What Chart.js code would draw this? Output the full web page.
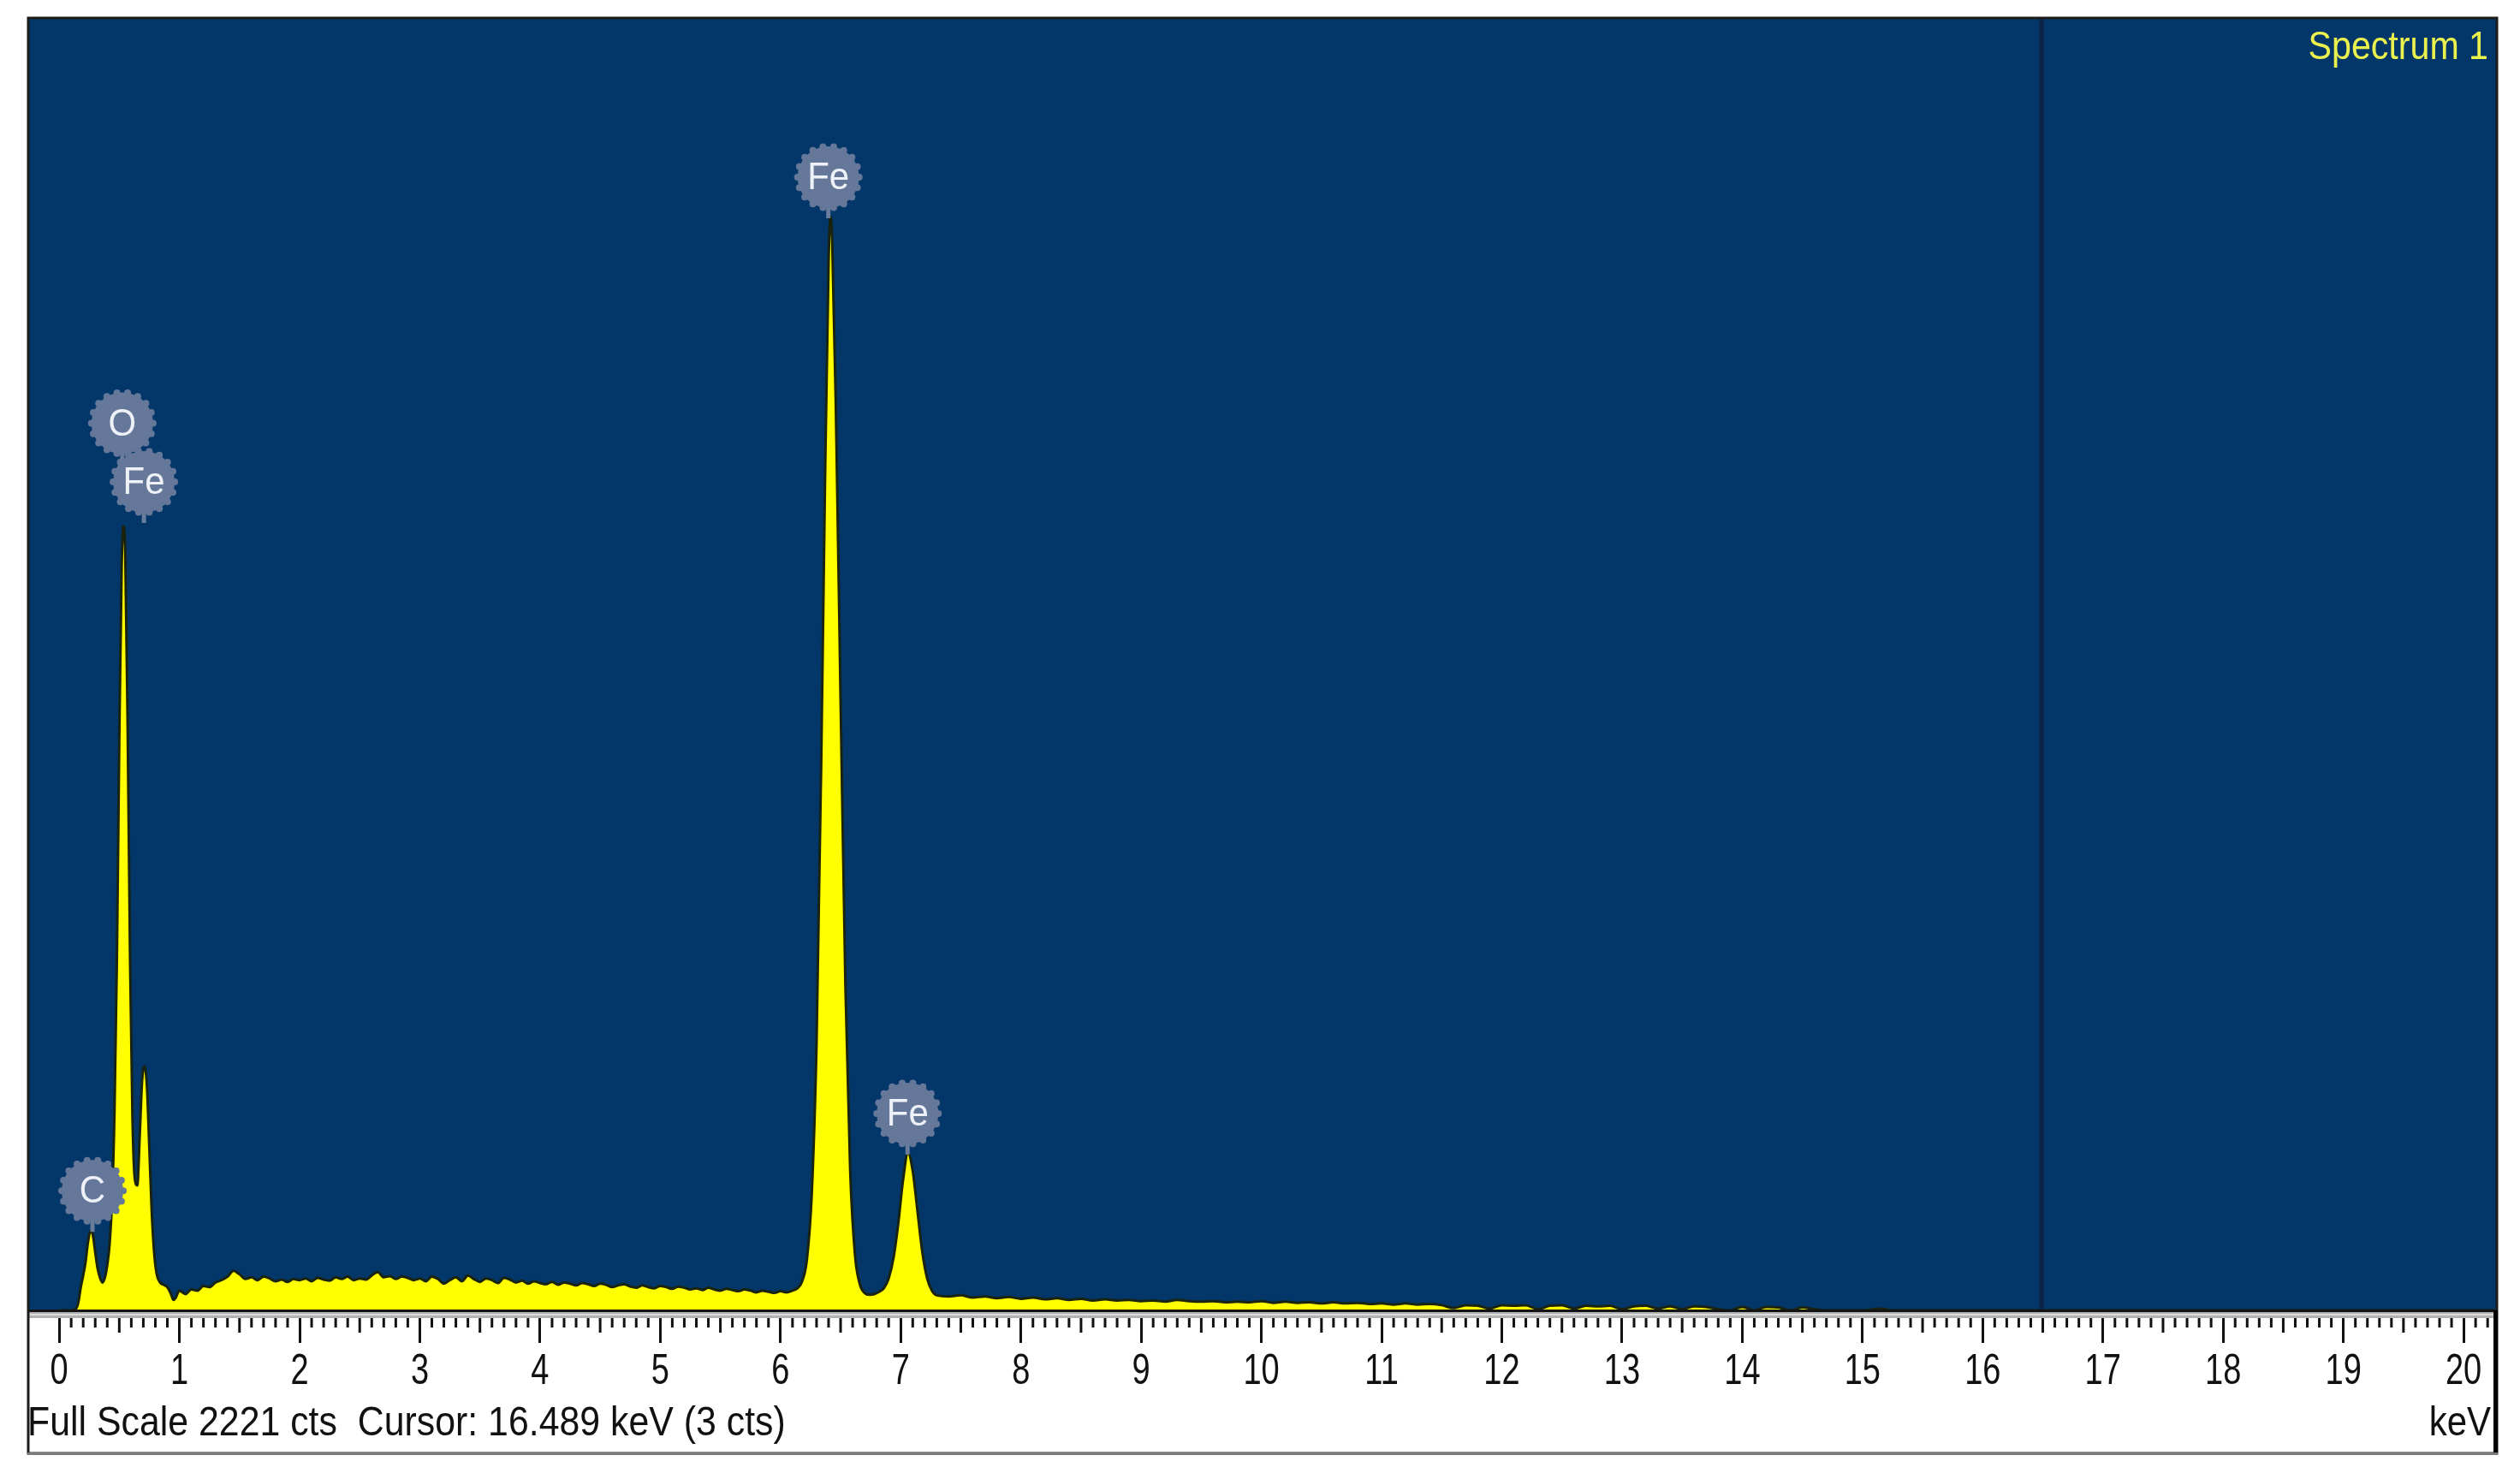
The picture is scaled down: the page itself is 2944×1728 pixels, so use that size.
<!DOCTYPE html>
<html>
<head>
<meta charset="utf-8">
<script src="https://cdn.jsdelivr.net/npm/chart.js@4.4.1/dist/chart.umd.min.js"></script>
<style>
  html, body { margin: 0; padding: 0; background: #ffffff; }
  canvas { display: block; }
</style>
</head>
<body>
<canvas id="spectrum" width="2944" height="1728"></canvas>
<script>
// EDS spectrum, counts per channel
const lowKeV = [
  0.00, 0.10, 0.14, 0.16, 0.18, 0.20, 0.22, 0.24, 0.26, 0.28,
  0.30, 0.32, 0.34, 0.36, 0.38, 0.40, 0.42, 0.44, 0.46, 0.48,
  0.50, 0.52, 0.535, 0.55, 0.57, 0.59, 0.61, 0.63, 0.65, 0.67,
  0.69, 0.71, 0.73, 0.75, 0.77, 0.79, 0.81, 0.84, 0.87, 0.90,
  0.93, 0.95, 0.97, 1.00
];
const lowCts = [
  0, 0, 3, 14, 40, 60, 84, 118, 136, 130,
  100, 72, 56, 48, 56, 78, 115, 190, 340, 600,
  980, 1280, 1349, 1300, 1000, 600, 330, 225, 215, 300,
  395, 420, 385, 280, 170, 100, 64, 48, 44, 40,
  28, 18, 22, 34
];
const bremsKeV = [
  1.05, 1.10, 1.15, 1.20, 1.25, 1.30, 1.35, 1.40, 1.45, 1.50,
  1.55, 1.60, 1.65, 1.70, 1.75, 1.80, 1.85, 1.90, 1.95, 2.00,
  2.05, 2.10, 2.15, 2.20, 2.25, 2.30, 2.35, 2.40, 2.45, 2.50,
  2.55, 2.60, 2.65, 2.70, 2.75, 2.80, 2.85, 2.90, 2.95, 3.00,
  3.05, 3.10, 3.15, 3.20, 3.25, 3.30, 3.35, 3.40, 3.45, 3.50,
  3.55, 3.60, 3.65, 3.70, 3.75, 3.80, 3.85, 3.90, 3.95, 4.00,
  4.05, 4.10, 4.15, 4.20, 4.25, 4.30, 4.35, 4.40, 4.45, 4.50,
  4.55, 4.60, 4.65, 4.70, 4.75, 4.80, 4.85, 4.90, 4.95, 5.00,
  5.05, 5.10, 5.15, 5.20, 5.25, 5.30, 5.35, 5.40, 5.45, 5.50,
  5.55, 5.60, 5.65, 5.70, 5.75, 5.80, 5.85, 5.90, 5.95, 6.00,
  6.05, 6.10
];
const bremsCts = [
  28, 36, 34, 42, 40, 48, 52, 58, 68, 62,
  54, 57, 52, 58, 55, 50, 53, 49, 54, 52,
  55, 50, 56, 53, 51, 57, 54, 58, 52, 55,
  53, 60, 66, 57, 59, 54, 58, 56, 52, 55,
  50, 58, 54, 46, 52, 57, 50, 60, 54, 49,
  55, 52, 47, 56, 53, 48, 51, 46, 50, 47,
  45, 49, 44, 48, 46, 43, 47, 45, 42, 46,
  44, 40, 43, 45, 41, 39, 43, 40, 38, 42,
  40, 37, 41, 39, 36, 38, 35, 39, 36, 34,
  37, 35, 33, 36, 34, 31, 34, 32, 30, 33,
  31, 34
];
const feKKeV = [
  6.14, 6.18, 6.22, 6.26, 6.30, 6.34, 6.37, 6.40, 6.415, 6.43,
  6.46, 6.50, 6.54, 6.58, 6.62, 6.66, 6.70, 6.74, 6.78, 6.82,
  6.86, 6.90, 6.94, 6.98, 7.02, 7.06, 7.10, 7.14, 7.18, 7.22,
  7.26, 7.30
];
const feKCts = [
  38, 50, 88, 200, 460, 960, 1420, 1800, 1881, 1840,
  1560, 1050, 560, 240, 95, 45, 30, 27, 28, 32,
  38, 55, 90, 150, 225, 271, 240, 170, 100, 55,
  34, 26
];
const tailKeV = [
  7.40, 7.50, 7.60, 7.70, 7.80, 7.90, 8.00, 8.10, 8.20, 8.30,
  8.40, 8.50, 8.60, 8.70, 8.80, 8.90, 9.00, 9.10, 9.20, 9.30,
  9.40, 9.50, 9.60, 9.70, 9.80, 9.90, 10.00, 10.10, 10.20, 10.30,
  10.40, 10.50, 10.60, 10.70, 10.80, 10.90, 11.00, 11.10, 11.20, 11.30,
  11.40, 11.50, 11.60, 11.70, 11.80, 11.90, 12.00, 12.10, 12.20, 12.30,
  12.40, 12.50, 12.60, 12.70, 12.80, 12.90, 13.00, 13.10, 13.20, 13.30,
  13.40, 13.50, 13.60, 13.70, 13.80, 13.90, 14.00, 14.10, 14.20, 14.30,
  14.40, 14.50, 14.60, 14.70, 14.80, 14.90, 15.00, 15.15, 15.25, 20.27
];
const tailCts = [
  24, 26, 22, 24, 21, 23, 20, 22, 19, 21,
  18, 20, 17, 19, 17, 18, 16, 17, 15, 18,
  16, 15, 16, 14, 15, 14, 16, 13, 15, 13,
  14, 12, 14, 12, 13, 11, 12, 10, 12, 10,
  11, 9, 4, 9, 8, 3, 9, 8, 9, 2,
  8, 9, 3, 8, 7, 8, 2, 7, 8, 3,
  7, 2, 7, 6, 2, 0, 6, 0, 6, 5,
  0, 5, 2, 0, 0, 0, 0, 3, 0, 0
];

const tickKeV = [0, 1, 2, 3, 4, 5, 6, 7, 8, 9, 10, 11, 12, 13, 14, 15, 16, 17, 18, 19, 20];

// element markers: symbol, line energy, count where the marker stick ends
const markerElement = ['C', 'O', 'Fe', 'Fe', 'Fe'];
const markerKeV = [0.277, 0.525, 0.705, 6.398, 7.057];
const markerCts = [138, 1458, 1357, 1881, 271];

const fullScaleCts = 2221;
const cursorKeV = 16.489;
const cursorCts = 3;
const spectrumName = 'Spectrum 1';

const energy = [...lowKeV, ...bremsKeV, ...feKKeV, ...tailKeV];
const counts = [...lowCts, ...bremsCts, ...feKCts, ...tailCts];
const points = energy.map((e, i) => ({ x: e, y: counts[i] }));

const FONT = '"Liberation Sans", Arial, sans-serif';
const PLOT_BG = '#043769';

// narrow, tall text like the instrument software
function stretchedText(ctx, text, x, y, size, sx, sy, align, baseline) {
  ctx.save();
  ctx.translate(x, y);
  ctx.scale(sx, sy);
  ctx.font = size + 'px ' + FONT;
  ctx.textAlign = align;
  ctx.textBaseline = baseline;
  ctx.fillText(text, 0, 0);
  ctx.restore();
}

const edsFrame = {
  id: 'edsFrame',
  beforeDraw(chart) {
    const { ctx, chartArea: a } = chart;
    ctx.save();
    ctx.fillStyle = '#ffffff';
    ctx.fillRect(0, 0, chart.width, chart.height);
    ctx.fillStyle = PLOT_BG;
    ctx.fillRect(a.left, a.top, a.right - a.left, a.bottom - a.top);
    ctx.restore();
  },
  afterDraw(chart) {
    const { ctx, chartArea: a } = chart;
    const xs = chart.scales.x;
    const ys = chart.scales.y;
    const rulerBottom = xs.bottom;
    ctx.save();

    // cursor line
    const cx = xs.getPixelForValue(cursorKeV);
    ctx.strokeStyle = '#0b2445';
    ctx.lineWidth = 5;
    ctx.beginPath();
    ctx.moveTo(cx, a.top);
    ctx.lineTo(cx, a.bottom);
    ctx.stroke();

    // grey band under the plot
    ctx.fillStyle = '#141414';
    ctx.fillRect(a.left, a.bottom - 1, a.right - a.left, 3);
    ctx.fillStyle = '#b3b3b3';
    ctx.fillRect(a.left, a.bottom + 2, a.right - a.left, 7);
    ctx.fillStyle = '#dcdcdc';
    ctx.fillRect(a.left, a.bottom + 4, a.right - a.left, 2);

    // minor ticks every 0.1 keV
    ctx.strokeStyle = '#111111';
    ctx.lineWidth = 3;
    for (let i = 1; i <= 202; i++) {
      if (i % 10 === 0) continue;
      const px = xs.getPixelForValue(i / 10);
      if (px > a.right - 3) break;
      const len = i % 5 === 0 ? 17 : 11;
      ctx.beginPath();
      ctx.moveTo(px, a.bottom + 9);
      ctx.lineTo(px, a.bottom + 9 + len);
      ctx.stroke();
    }

    // tick labels from the axis ticks
    ctx.fillStyle = '#111111';
    xs.ticks.forEach(t => {
      stretchedText(ctx, String(t.value), xs.getPixelForValue(t.value), a.bottom + 86, 40, 0.95, 1.27, 'center', 'alphabetic');
    });

    // outer frame
    ctx.strokeStyle = '#1c1c1c';
    ctx.lineWidth = 3;
    ctx.strokeRect(a.left - 1, a.top - 1, a.right - a.left + 2, rulerBottom - a.top + 1);
    ctx.fillStyle = '#000000';
    ctx.fillRect(a.right - 3, a.bottom, 5, rulerBottom - a.bottom);
    ctx.fillStyle = '#7a7a7a';
    ctx.fillRect(a.left - 2, rulerBottom - 1, a.right - a.left + 4, 3);

    // element markers
    const r = 36;
    for (let i = 0; i < markerElement.length; i++) {
      const mx = xs.getPixelForValue(markerKeV[i]);
      const my = ys.getPixelForValue(markerCts[i]);
      const cy = my - 46;
      ctx.strokeStyle = '#6b7d9d';
      ctx.lineWidth = 5;
      ctx.beginPath();
      ctx.moveTo(mx, cy + r - 2);
      ctx.lineTo(mx, my + 2);
      ctx.stroke();
      ctx.fillStyle = '#66789a';
      ctx.beginPath();
      ctx.arc(mx, cy, r, 0, Math.PI * 2);
      ctx.fill();
      for (let k = 0; k < 18; k++) {
        const ang = k * Math.PI / 9;
        ctx.beginPath();
        ctx.arc(mx + Math.cos(ang) * r, cy + Math.sin(ang) * r, 4, 0, Math.PI * 2);
        ctx.fill();
      }
      ctx.fillStyle = '#eef1f7';
      stretchedText(ctx, markerElement[i], mx, cy + 2, 42, 1, 1.05, 'center', 'middle');
    }

    // texts
    ctx.fillStyle = '#eaf04c';
    stretchedText(ctx, spectrumName, a.right - 9, a.top + 47, 42, 0.98, 1.1, 'right', 'alphabetic');

    ctx.fillStyle = '#111111';
    const status = 'Full Scale ' + fullScaleCts + ' cts  Cursor: ' + cursorKeV.toFixed(3) + ' keV (' + cursorCts + ' cts)';
    stretchedText(ctx, status, a.left - 2, rulerBottom - 21, 42, 1.02, 1.15, 'left', 'alphabetic');
    stretchedText(ctx, 'keV', a.right - 6, rulerBottom - 21, 42, 1, 1.15, 'right', 'alphabetic');
    ctx.restore();
  }
};

new Chart(document.getElementById('spectrum'), {
  type: 'line',
  data: {
    datasets: [{
      data: points,
      fill: 'origin',
      backgroundColor: '#ffff00',
      borderColor: '#1a230f',
      borderWidth: 3,
      pointRadius: 0,
      cubicInterpolationMode: 'monotone'
    }]
  },
  options: {
    responsive: false,
    animation: false,
    layout: { padding: { left: 34, right: 28, top: 22, bottom: 30 } },
    plugins: { legend: { display: false }, tooltip: { enabled: false } },
    scales: {
      x: {
        type: 'linear',
        min: -0.25,
        max: 20.27,
        afterBuildTicks: s => { s.ticks = tickKeV.map(v => ({ value: v })); },
        afterFit: s => { s.height = 167; },
        ticks: { display: false },
        grid: { drawOnChartArea: false, drawTicks: true, tickLength: 38, color: '#111111', lineWidth: 3 },
        border: { display: false }
      },
      y: {
        display: false,
        min: 0,
        max: fullScaleCts
      }
    }
  },
  plugins: [edsFrame]
});
</script>
</body>
</html>
